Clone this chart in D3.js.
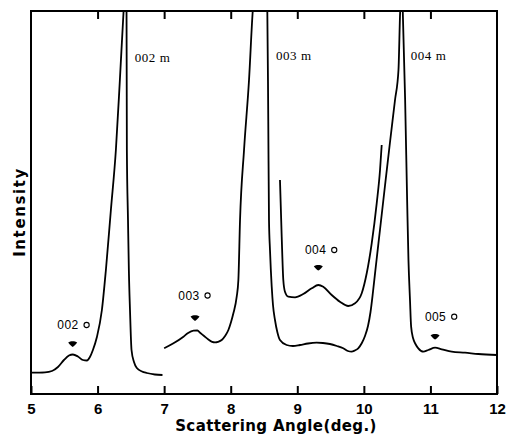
<!DOCTYPE html>
<html>
<head>
<meta charset="utf-8">
<script src="https://cdn.jsdelivr.net/npm/d3@7"></script>
<style>
body { margin: 0; background: #fff; }
</style>
</head>
<body>
<div id="chart"></div>
<script>
// tick values of the angle axis
var xTicks = [5, 6, 7, 8, 9, 10, 11, 12];

// trace 1 : 5 - 7 deg (002 m peak)
var angleLow = [5.00, 5.21, 5.315, 5.405, 5.495, 5.57, 5.63, 5.705, 5.78, 5.84, 5.885, 5.93, 5.99, 6.065, 6.125, 6.20, 6.275, 6.335, 6.39, 6.41, 6.435, 6.44, 6.457, 6.47, 6.487, 6.51, 6.547, 6.59, 6.667, 6.74, 6.86, 6.975];
var intensityLow = [21.3, 21.7, 23, 27, 34, 38.5, 39.5, 37.5, 34, 33.5, 37, 44, 57, 84, 124, 184, 244, 314, 382, 404, 382, 244, 174, 124, 84, 44, 32, 26, 22.5, 21, 19.5, 19];

// trace 2 : 7 - 12 deg (003 m, 004 m peaks)
var angleHigh = [7.00, 7.14, 7.29, 7.36, 7.44, 7.50, 7.54, 7.60, 7.66, 7.72, 7.765, 7.81, 7.865, 7.915, 7.965, 8.005, 8.04, 8.09, 8.115, 8.14, 8.20, 8.275, 8.33, 8.44, 8.55, 8.564, 8.575, 8.59, 8.616, 8.635, 8.665, 8.70, 8.74, 8.84, 8.935, 9.04, 9.16, 9.29, 9.385, 9.49, 9.595, 9.69, 9.76, 9.815, 9.865, 9.915, 9.97, 10.017, 10.062, 10.10, 10.137, 10.182, 10.242, 10.317, 10.393, 10.468, 10.52, 10.545, 10.565, 10.585, 10.62, 10.65, 10.67, 10.693, 10.71, 10.74, 10.775, 10.818, 10.893, 10.968, 11.07, 11.17, 11.32, 11.52, 11.72, 12.0];
var intensityHigh = [45.7, 50.7, 57.3, 61, 63.3, 63.5, 61.3, 58, 54.7, 52.2, 51.7, 52.2, 54, 58, 64, 72, 80.7, 97.3, 114, 174, 244, 314, 382, 434, 382, 274, 174, 144, 107.3, 89, 74, 62, 54, 49, 48, 49, 50.5, 51.3, 51, 50, 48, 45.7, 43, 42.3, 43.5, 45.7, 51, 58, 68, 82, 102, 129, 164, 208, 252, 294, 324, 382, 404, 382, 294, 194, 134, 94, 67.3, 55.7, 50, 45.7, 42.3, 44, 46.3, 44.7, 42.3, 41.3, 40, 39];

// magnified trace round 004 o
var angleZoom = [8.74, 8.766, 8.79, 8.815, 8.865, 8.966, 9.09, 9.217, 9.316, 9.39, 9.517, 9.64, 9.766, 9.867, 9.968, 10.043, 10.118, 10.193, 10.243, 10.268];
var intensityZoom = [214, 157.3, 114, 102.3, 97.3, 96.7, 100, 105.7, 109, 107.3, 99, 92.3, 88, 90.7, 100.7, 120.7, 150.7, 190.7, 224, 249];

// small reflections (o) with arrow markers
var orderLabels = ["002", "003", "004", "005"];
var markerAngle = [5.626, 7.464, 9.316, 11.07];
var markerIntensity = [50, 76, 126.3, 57.3];
var labelAngle = [5.396, 7.213, 9.116, 10.918];
var labelIntensity = [65, 94.5, 140, 73.3];

// strong reflections (m)
var peakLabels = ["002", "003", "004"];
var peakAngle = [6.56, 8.68, 10.704];
var peakIntensity = [332, 334, 334];

var width = 507, height = 439;
var margin = {top: 11, right: 10, bottom: 45, left: 31};

var svg = d3.select("#chart").append("svg")
	.attr("width", width)
	.attr("height", height);

var x = d3.scaleLinear().domain([5, 12]).range([margin.left, width - margin.right]);
var y = d3.scaleLinear().domain([0, 383]).range([height - margin.bottom, margin.top]);

svg.append("clipPath").attr("id", "plotClip")
	.append("rect")
	.attr("x", x(5)).attr("y", y(383))
	.attr("width", x(12) - x(5)).attr("height", y(0) - y(383));

// axes, ticks point inward
var bottomAxis = d3.axisBottom(x).tickValues(xTicks).tickFormat(d3.format("d"))
	.tickSizeInner(-8).tickSizeOuter(0).tickPadding(9);
var gx = svg.append("g")
	.attr("transform", "translate(0," + y(0) + ")")
	.call(bottomAxis);
gx.select(".domain").remove();
gx.selectAll(".tick line").attr("stroke", "#000").attr("stroke-width", 2);
gx.selectAll(".tick text")
	.attr("font-family", "'Liberation Sans', Arial, sans-serif")
	.attr("font-weight", "bold")
	.attr("font-size", 15)
	.attr("fill", "#000");

var topAxis = d3.axisTop(x).tickValues([6, 7, 8, 9, 10, 11]).tickSizeInner(-8).tickSizeOuter(0).tickFormat("");
var gt = svg.append("g")
	.attr("transform", "translate(0," + y(383) + ")")
	.call(topAxis);
gt.select(".domain").remove();
gt.selectAll(".tick line").attr("stroke", "#000").attr("stroke-width", 2);

// frame
svg.append("rect")
	.attr("x", x(5)).attr("y", y(383))
	.attr("width", x(12) - x(5)).attr("height", y(0) - y(383))
	.attr("fill", "none")
	.attr("stroke", "#000")
	.attr("stroke-width", 2);

var line = d3.line()
	.x(function(d) { return x(d[0]); })
	.y(function(d) { return y(d[1]); })
	.curve(d3.curveMonotoneX);

function drawTrace(angles, values){
	var pts = angles.map(function(a, i) { return [a, values[i]]; });
	svg.append("path")
		.datum(pts)
		.attr("clip-path", "url(#plotClip)")
		.attr("d", line)
		.attr("fill", "none")
		.attr("stroke", "#000")
		.attr("stroke-width", 1.8)
		.attr("stroke-linejoin", "round");
}
drawTrace(angleLow, intensityLow);
drawTrace(angleHigh, intensityHigh);
drawTrace(angleZoom, intensityZoom);

// arrow markers above the weak peaks
svg.selectAll(".marker")
	.data(markerAngle)
	.enter().append("path")
	.attr("class", "marker")
	.attr("transform", function(d, i) { return "translate(" + x(d) + "," + y(markerIntensity[i]) + ")"; })
	.attr("d", "M-4.5,-1.5 C-2,-3.2 2,-3.2 4.5,-1.5 C3,0.5 1.2,2.5 0,2.9 C-1.2,2.5 -3,0.5 -4.5,-1.5 Z")
	.attr("fill", "#000");

orderLabels.forEach(function(t, i) {
	var txt = svg.append("text")
		.attr("x", x(labelAngle[i]))
		.attr("y", y(labelIntensity[i]))
		.attr("font-family", "'Liberation Sans', Arial, sans-serif")
		.attr("font-size", 12)
		.attr("letter-spacing", 0.4)
		.attr("fill", "#000")
		.text(t);
	var w = txt.node().getComputedTextLength();
	svg.append("circle")
		.attr("cx", x(labelAngle[i]) + w + 8)
		.attr("cy", y(labelIntensity[i]) - 4)
		.attr("r", 2.6)
		.attr("fill", "none")
		.attr("stroke", "#000")
		.attr("stroke-width", 1.1);
});

peakLabels.forEach(function(t, i) {
	var txt = svg.append("text")
		.attr("x", x(peakAngle[i]))
		.attr("y", y(peakIntensity[i]))
		.attr("font-family", "'Liberation Serif', 'Times New Roman', serif")
		.attr("font-size", 13)
		.attr("fill", "#000");
	txt.append("tspan").attr("letter-spacing", 0.5).text(t);
	txt.append("tspan").attr("dx", 4).text("m");
});

// axis titles
svg.append("text")
	.attr("x", (x(5) + x(12)) / 2 + 12)
	.attr("y", 431)
	.attr("text-anchor", "middle")
	.attr("font-family", "'DejaVu Sans', sans-serif")
	.attr("font-weight", "bold")
	.attr("font-size", 15)
	.attr("letter-spacing", 0.4)
	.attr("fill", "#000")
	.text("Scattering Angle(deg.)");

svg.append("text")
	.attr("transform", "translate(25," + 212 + ") rotate(-90)")
	.attr("text-anchor", "middle")
	.attr("font-family", "'DejaVu Sans', sans-serif")
	.attr("font-weight", "bold")
	.attr("font-size", 15)
	.attr("letter-spacing", 1.6)
	.attr("fill", "#000")
	.text("Intensity");
</script>
</body>
</html>
